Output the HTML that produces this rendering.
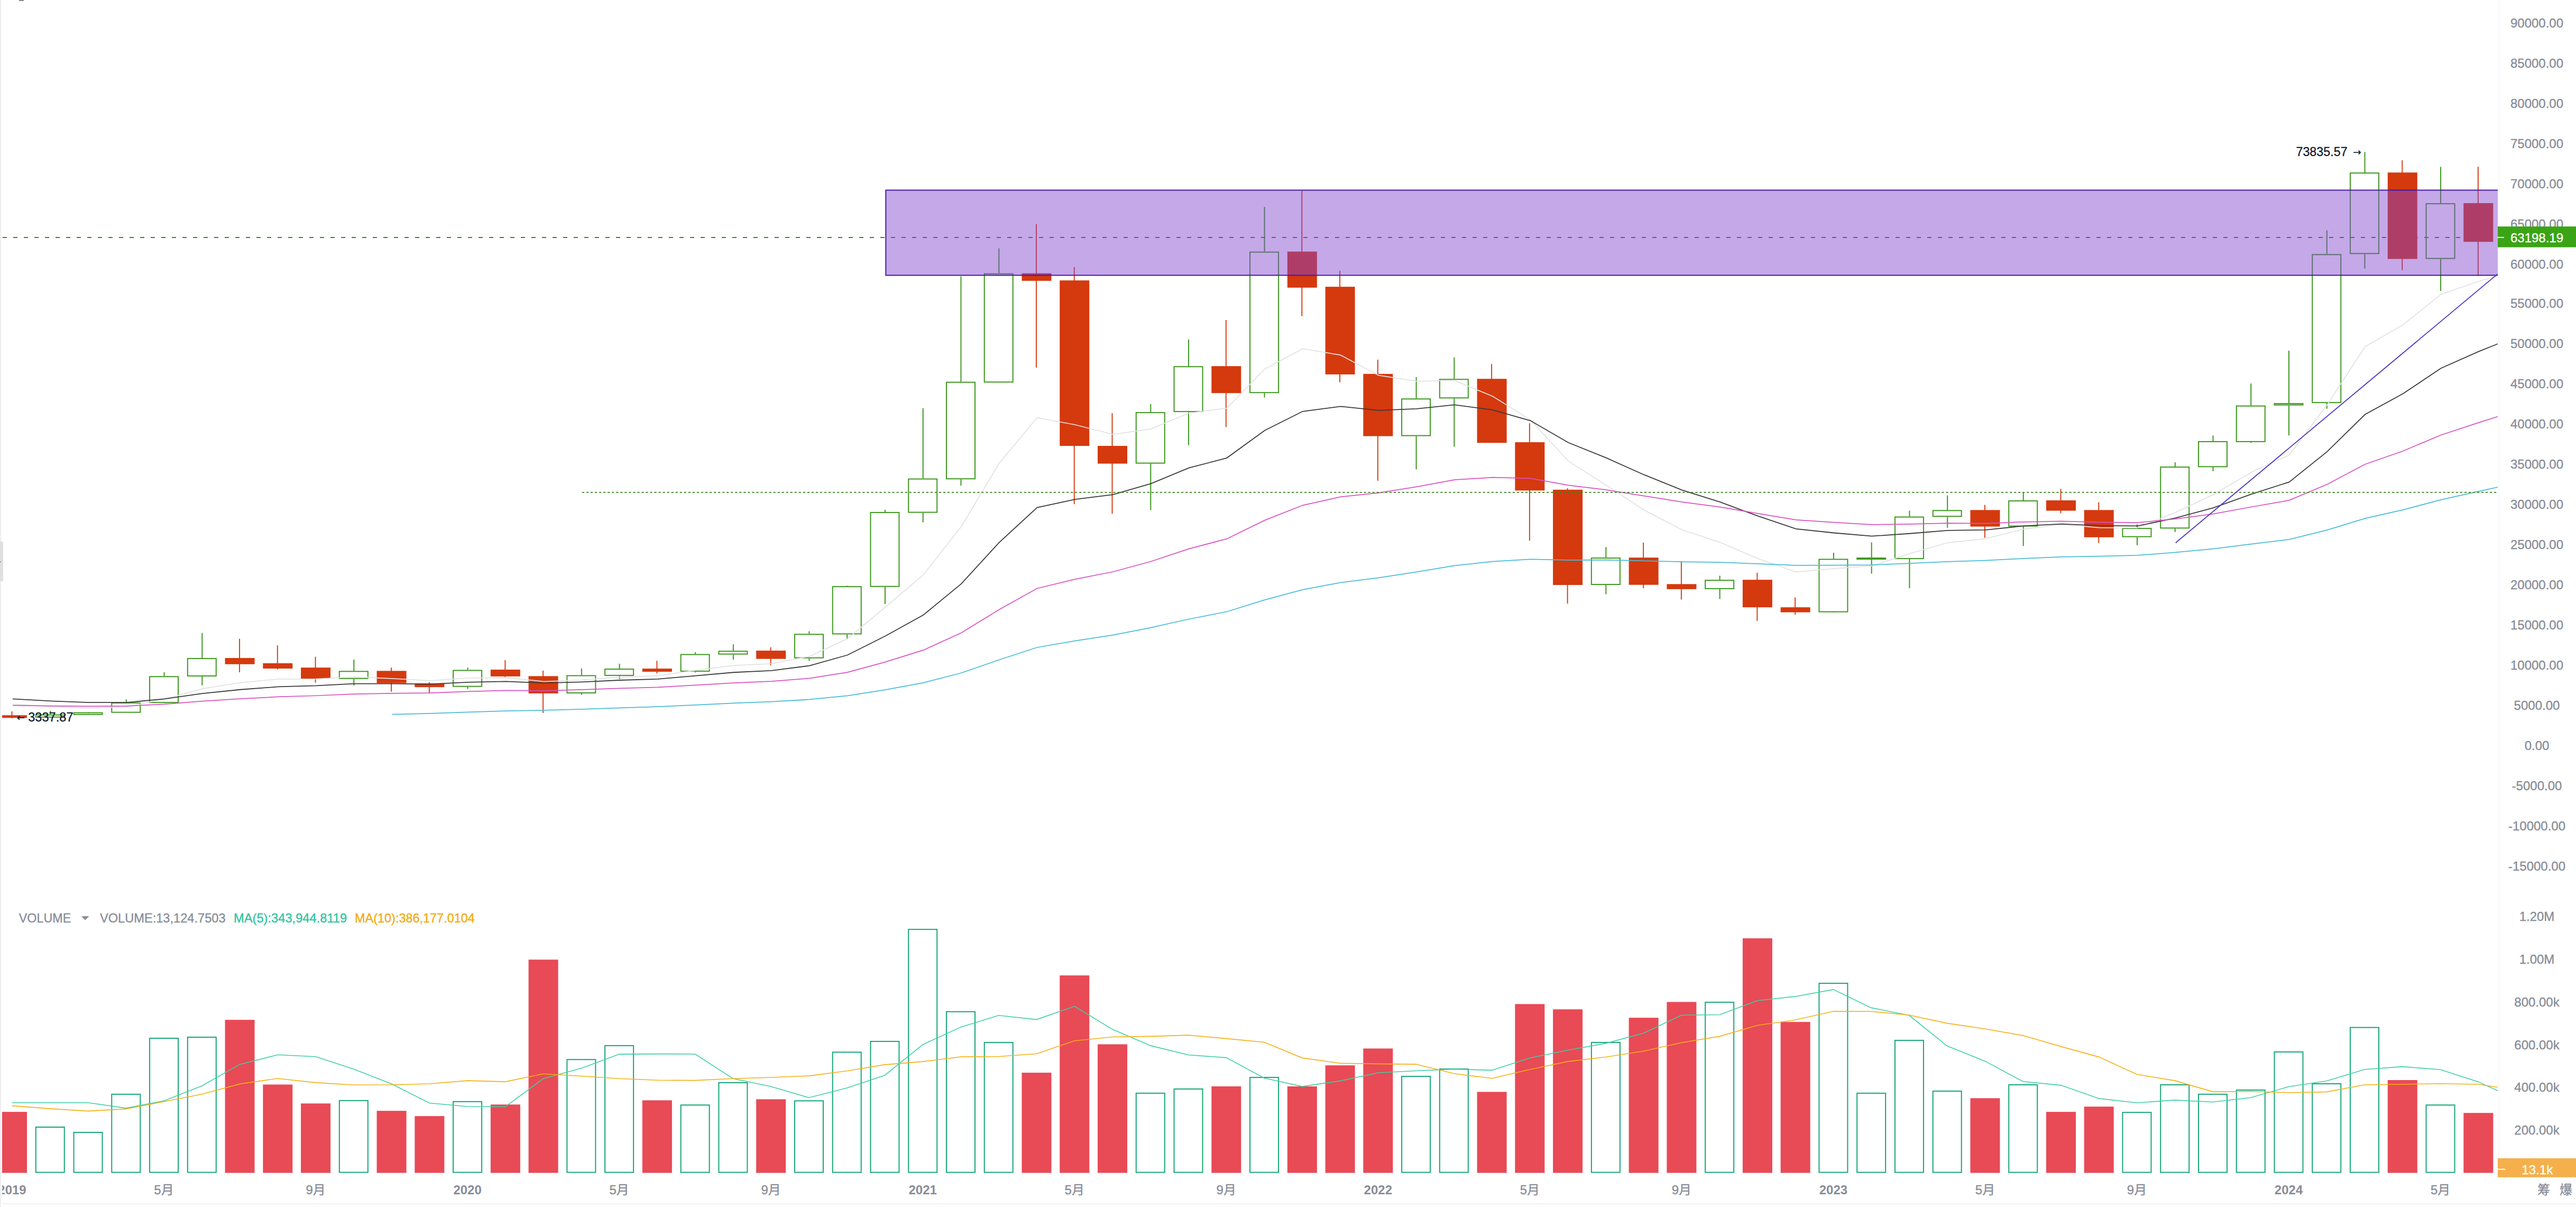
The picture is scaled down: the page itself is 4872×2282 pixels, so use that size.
<!DOCTYPE html>
<html lang="zh"><head><meta charset="utf-8"><title>BTC 月线</title>
<style>
html,body{margin:0;padding:0;background:#fff;}
body{width:4872px;height:2282px;overflow:hidden;}
svg{display:block;font-family:'Liberation Sans','Noto Sans CJK SC',sans-serif;font-size:24px;}
.ax{fill:#888c97;stroke:#888c97;stroke-width:.35px;text-anchor:middle;}
.lg{stroke-width:.35px;}
.yr{fill:#888c97;text-anchor:middle;font-weight:bold;}
.nv{fill:#0e1a2e;stroke:#0e1a2e;stroke-width:.3px;}
</style></head><body>
<svg width="4872" height="2282" viewBox="0 0 4872 2282">
<defs><clipPath id="cp"><rect x="4" y="0" width="4720" height="2282"/></clipPath></defs>
<rect width="4872" height="2282" fill="#fff"/>
<rect x="0" y="0" width="2.3" height="2282" fill="#efeff1"/>
<rect x="36" y="0" width="9" height="1.5" fill="#666"/>
<rect x="-6" y="1023.5" width="12" height="76" rx="4" fill="#dfe0e2"/><rect x="0" y="1061" width="1.2" height="2.5" fill="#777"/>
<rect x="4724.8" y="0" width="2.7" height="2226" fill="#f9f9fb"/>
<rect x="4" y="2275.2" width="4872" height="1.5" fill="#ededee"/>

<path d="M5 448.95H4724" stroke="#3b881d" stroke-width="2.1" stroke-dasharray="8 12" fill="none"/>
<g clip-path="url(#cp)">
<path d="M22.5 1344.87V1358.01" stroke="#d5390e" stroke-width="1.9" fill="none"/>
<rect x="-5" y="1352.24" width="56" height="5.01" fill="#d5390e"/>
<path d="M95.26 1344.04V1350.72M95.26 1356.74V1357.25" stroke="#3d981e" stroke-width="2" fill="none"/>
<rect x="67.76" y="1351.72" width="54" height="4.02" fill="none" stroke="#3d981e" stroke-width="2"/>
<path d="M167.02 1346.04V1346.58M167.02 1351.79V1352.09" stroke="#3d981e" stroke-width="2" fill="none"/>
<rect x="139.52" y="1347.58" width="54" height="3.21" fill="none" stroke="#3d981e" stroke-width="2"/>
<path d="M238.78 1322.32V1328.07M238.78 1347.68V1347.68" stroke="#3d981e" stroke-width="2" fill="none"/>
<rect x="211.28" y="1329.07" width="54" height="17.61" fill="none" stroke="#3d981e" stroke-width="2"/>
<path d="M310.54 1271.07V1278.27M310.54 1329.15V1328.15" stroke="#3d981e" stroke-width="2" fill="none"/>
<rect x="283.04" y="1279.27" width="54" height="48.89" fill="none" stroke="#3d981e" stroke-width="2"/>
<path d="M382.3 1196.7V1244.03M382.3 1278.95V1295.83" stroke="#3d981e" stroke-width="2" fill="none"/>
<rect x="354.8" y="1245.03" width="54" height="32.92" fill="none" stroke="#3d981e" stroke-width="2"/>
<path d="M453.05 1207.63V1271.11" stroke="#d5390e" stroke-width="1.9" fill="none"/>
<rect x="425.55" y="1244.03" width="56" height="11.76" fill="#d5390e"/>
<path d="M524.81 1220.24V1265.51" stroke="#d5390e" stroke-width="1.9" fill="none"/>
<rect x="497.31" y="1253.96" width="56" height="10.03" fill="#d5390e"/>
<path d="M596.57 1241.66V1290.57" stroke="#d5390e" stroke-width="1.9" fill="none"/>
<rect x="569.07" y="1262.16" width="56" height="20.83" fill="#d5390e"/>
<path d="M669.33 1247.1V1268.39M669.33 1283.81V1295.89" stroke="#3d981e" stroke-width="2" fill="none"/>
<rect x="641.83" y="1269.39" width="54" height="13.42" fill="none" stroke="#3d981e" stroke-width="2"/>
<path d="M740.09 1262.24V1307.7" stroke="#d5390e" stroke-width="1.9" fill="none"/>
<rect x="712.59" y="1268.39" width="56" height="23.21" fill="#d5390e"/>
<path d="M811.85 1289.7V1310.09" stroke="#d5390e" stroke-width="1.9" fill="none"/>
<rect x="784.35" y="1292.09" width="56" height="7.09" fill="#d5390e"/>
<path d="M884.61 1262.24V1266.49M884.61 1298.7V1302.49" stroke="#3d981e" stroke-width="2" fill="none"/>
<rect x="857.11" y="1267.49" width="54" height="30.2" fill="none" stroke="#3d981e" stroke-width="2"/>
<path d="M955.37 1248.04V1280.24" stroke="#d5390e" stroke-width="1.9" fill="none"/>
<rect x="927.87" y="1266.02" width="56" height="12.81" fill="#d5390e"/>
<path d="M1027.13 1267.94V1347.96" stroke="#d5390e" stroke-width="1.9" fill="none"/>
<rect x="999.63" y="1278.34" width="56" height="32.67" fill="#d5390e"/>
<path d="M1099.88 1263.68V1276.44M1099.88 1311.02V1313.4" stroke="#3d981e" stroke-width="2" fill="none"/>
<rect x="1072.38" y="1277.44" width="54" height="32.57" fill="none" stroke="#3d981e" stroke-width="2"/>
<path d="M1171.64 1254.8V1264.09M1171.64 1277.9V1283.99" stroke="#3d981e" stroke-width="2" fill="none"/>
<rect x="1144.14" y="1265.09" width="54" height="11.81" fill="none" stroke="#3d981e" stroke-width="2"/>
<path d="M1242.4 1249.21V1273.41" stroke="#d5390e" stroke-width="1.9" fill="none"/>
<rect x="1214.9" y="1264.09" width="56" height="5.91" fill="#d5390e"/>
<path d="M1315.16 1233V1236.49M1315.16 1269.91V1271.58" stroke="#3d981e" stroke-width="2" fill="none"/>
<rect x="1287.66" y="1237.49" width="54" height="31.42" fill="none" stroke="#3d981e" stroke-width="2"/>
<path d="M1386.92 1218.2V1230.31M1386.92 1237.56V1247.13" stroke="#3d981e" stroke-width="2" fill="none"/>
<rect x="1359.42" y="1231.31" width="54" height="5.25" fill="none" stroke="#3d981e" stroke-width="2"/>
<path d="M1457.68 1223.89V1257.99" stroke="#d5390e" stroke-width="1.9" fill="none"/>
<rect x="1430.18" y="1230.11" width="56" height="15.57" fill="#d5390e"/>
<path d="M1530.44 1193.58V1198.31M1530.44 1244.73V1249.47" stroke="#3d981e" stroke-width="2" fill="none"/>
<rect x="1502.94" y="1199.31" width="54" height="44.42" fill="none" stroke="#3d981e" stroke-width="2"/>
<path d="M1602.2 1107.18V1108.14M1602.2 1199.41V1208.47" stroke="#3d981e" stroke-width="2" fill="none"/>
<rect x="1574.7" y="1109.14" width="54" height="89.28" fill="none" stroke="#3d981e" stroke-width="2"/>
<path d="M1673.96 963.83V967.93M1673.96 1109.73V1141.98" stroke="#3d981e" stroke-width="2" fill="none"/>
<rect x="1646.46" y="968.93" width="54" height="139.8" fill="none" stroke="#3d981e" stroke-width="2"/>
<path d="M1745.72 771.68V904.59M1745.72 969.56V987.38" stroke="#3d981e" stroke-width="2" fill="none"/>
<rect x="1718.22" y="905.59" width="54" height="62.97" fill="none" stroke="#3d981e" stroke-width="2"/>
<path d="M1817.47 522.53V721.7M1817.47 906.23V918.32" stroke="#3d981e" stroke-width="2" fill="none"/>
<rect x="1789.97" y="722.7" width="54" height="182.53" fill="none" stroke="#3d981e" stroke-width="2"/>
<path d="M1889.23 469.49V516.64M1889.23 723.31V723.31" stroke="#3d981e" stroke-width="2" fill="none"/>
<rect x="1861.73" y="517.64" width="54" height="204.68" fill="none" stroke="#3d981e" stroke-width="2"/>
<path d="M1959.99 423.77V694.97" stroke="#d5390e" stroke-width="1.9" fill="none"/>
<rect x="1932.49" y="516.65" width="56" height="14.26" fill="#d5390e"/>
<path d="M2031.75 505.1V953.2" stroke="#d5390e" stroke-width="1.9" fill="none"/>
<rect x="2004.25" y="530.16" width="56" height="312.87" fill="#d5390e"/>
<path d="M2103.51 781.1V971.35" stroke="#d5390e" stroke-width="1.9" fill="none"/>
<rect x="2076.01" y="843.03" width="56" height="33.54" fill="#d5390e"/>
<path d="M2176.27 764.11V779.11M2176.27 876.57V964.17" stroke="#3d981e" stroke-width="2" fill="none"/>
<rect x="2148.77" y="780.11" width="54" height="95.46" fill="none" stroke="#3d981e" stroke-width="2"/>
<path d="M2248.03 641.81V692.24M2248.03 779.11V841.83" stroke="#3d981e" stroke-width="2" fill="none"/>
<rect x="2220.53" y="693.24" width="54" height="84.87" fill="none" stroke="#3d981e" stroke-width="2"/>
<path d="M2318.79 605.05V807.38" stroke="#d5390e" stroke-width="1.9" fill="none"/>
<rect x="2291.29" y="692.24" width="56" height="50.98" fill="#d5390e"/>
<path d="M2391.55 391.17V475.63M2391.55 743.27V751.43" stroke="#3d981e" stroke-width="2" fill="none"/>
<rect x="2364.05" y="476.63" width="54" height="265.65" fill="none" stroke="#3d981e" stroke-width="2"/>
<path d="M2462.31 360.79V597.75" stroke="#d5390e" stroke-width="1.9" fill="none"/>
<rect x="2434.81" y="475.63" width="56" height="68.2" fill="#d5390e"/>
<path d="M2534.07 511.88V722.62" stroke="#d5390e" stroke-width="1.9" fill="none"/>
<rect x="2506.57" y="542.16" width="56" height="165.72" fill="#d5390e"/>
<path d="M2605.82 679.93V908.89" stroke="#d5390e" stroke-width="1.9" fill="none"/>
<rect x="2578.32" y="706.88" width="56" height="117.72" fill="#d5390e"/>
<path d="M2678.58 712.88V753.3M2678.58 824.6V887.55" stroke="#3d981e" stroke-width="2" fill="none"/>
<rect x="2651.08" y="754.3" width="54" height="69.3" fill="none" stroke="#3d981e" stroke-width="2"/>
<path d="M2750.34 675.68V716.24M2750.34 753.3V844.52" stroke="#3d981e" stroke-width="2" fill="none"/>
<rect x="2722.84" y="717.24" width="54" height="35.06" fill="none" stroke="#3d981e" stroke-width="2"/>
<path d="M2821.1 688.23V836.21" stroke="#d5390e" stroke-width="1.9" fill="none"/>
<rect x="2793.6" y="716.24" width="56" height="121.06" fill="#d5390e"/>
<path d="M2892.86 800.22V1022.31" stroke="#d5390e" stroke-width="1.9" fill="none"/>
<rect x="2865.36" y="836.09" width="56" height="91.29" fill="#d5390e"/>
<path d="M2964.62 923.09V1141.22" stroke="#d5390e" stroke-width="1.9" fill="none"/>
<rect x="2937.12" y="925.84" width="56" height="180.14" fill="#d5390e"/>
<path d="M3037.38 1034.19V1054.11M3037.38 1105.98V1123.62" stroke="#3d981e" stroke-width="2" fill="none"/>
<rect x="3009.88" y="1055.11" width="54" height="49.87" fill="none" stroke="#3d981e" stroke-width="2"/>
<path d="M3108.14 1025.9V1112.09" stroke="#d5390e" stroke-width="1.9" fill="none"/>
<rect x="3080.64" y="1054.21" width="56" height="51.49" fill="#d5390e"/>
<path d="M3179.9 1062.58V1133.58" stroke="#d5390e" stroke-width="1.9" fill="none"/>
<rect x="3152.4" y="1104.34" width="56" height="9.54" fill="#d5390e"/>
<path d="M3252.66 1088.62V1096.14M3252.66 1113.88V1132.59" stroke="#3d981e" stroke-width="2" fill="none"/>
<rect x="3225.16" y="1097.14" width="54" height="15.74" fill="none" stroke="#3d981e" stroke-width="2"/>
<path d="M3323.41 1082.62V1173.82" stroke="#d5390e" stroke-width="1.9" fill="none"/>
<rect x="3295.91" y="1096.14" width="56" height="52.06" fill="#d5390e"/>
<path d="M3395.17 1129.6V1161.97" stroke="#d5390e" stroke-width="1.9" fill="none"/>
<rect x="3367.67" y="1148.16" width="56" height="9.46" fill="#d5390e"/>
<path d="M3467.93 1044.95V1056.49M3467.93 1157.64V1158.28" stroke="#3d981e" stroke-width="2" fill="none"/>
<rect x="3440.43" y="1057.49" width="54" height="99.15" fill="none" stroke="#3d981e" stroke-width="2"/>
<path d="M3539.69 1025.35V1054.11M3539.69 1058.11V1084.58" stroke="#3d981e" stroke-width="2" fill="none"/>
<rect x="3512.19" y="1055.11" width="54" height="2" fill="none" stroke="#3d981e" stroke-width="2"/>
<path d="M3611.45 965.6V976.52M3611.45 1057.1V1111.95" stroke="#3d981e" stroke-width="2" fill="none"/>
<rect x="3583.95" y="977.52" width="54" height="78.58" fill="none" stroke="#3d981e" stroke-width="2"/>
<path d="M3683.21 936.42V964.29M3683.21 977.2V997.71" stroke="#3d981e" stroke-width="2" fill="none"/>
<rect x="3655.71" y="965.29" width="54" height="10.91" fill="none" stroke="#3d981e" stroke-width="2"/>
<path d="M3753.97 954.57V1016.83" stroke="#d5390e" stroke-width="1.9" fill="none"/>
<rect x="3726.47" y="964.29" width="56" height="31.29" fill="#d5390e"/>
<path d="M3826.73 931.46V946.03M3826.73 995.58V1032.19" stroke="#3d981e" stroke-width="2" fill="none"/>
<rect x="3799.23" y="947.03" width="54" height="47.55" fill="none" stroke="#3d981e" stroke-width="2"/>
<path d="M3897.49 924.19V970.5" stroke="#d5390e" stroke-width="1.9" fill="none"/>
<rect x="3869.99" y="946.03" width="56" height="19.47" fill="#d5390e"/>
<path d="M3969.24 949.49V1026.63" stroke="#d5390e" stroke-width="1.9" fill="none"/>
<rect x="3941.74" y="964.29" width="56" height="51.49" fill="#d5390e"/>
<path d="M4042 991.36V998.09M4042 1015.63V1030.65" stroke="#3d981e" stroke-width="2" fill="none"/>
<rect x="4014.5" y="999.09" width="54" height="15.54" fill="none" stroke="#3d981e" stroke-width="2"/>
<path d="M4113.76 874.06V882.11M4113.76 999.35V1005.79" stroke="#3d981e" stroke-width="2" fill="none"/>
<rect x="4086.26" y="883.11" width="54" height="115.24" fill="none" stroke="#3d981e" stroke-width="2"/>
<path d="M4185.52 823.4V833.96M4185.52 883.33V890.97" stroke="#3d981e" stroke-width="2" fill="none"/>
<rect x="4158.02" y="834.96" width="54" height="47.37" fill="none" stroke="#3d981e" stroke-width="2"/>
<path d="M4257.28 724.89V766.62M4257.28 835.89V837.53" stroke="#3d981e" stroke-width="2" fill="none"/>
<rect x="4229.78" y="767.62" width="54" height="67.27" fill="none" stroke="#3d981e" stroke-width="2"/>
<path d="M4329.04 663.07V762.11M4329.04 766.62V823.25" stroke="#3d981e" stroke-width="2" fill="none"/>
<rect x="4301.54" y="763.11" width="54" height="2.51" fill="none" stroke="#3d981e" stroke-width="2"/>
<path d="M4400.8 435.22V480.34M4400.8 762.11V772.68" stroke="#3d981e" stroke-width="2" fill="none"/>
<rect x="4373.3" y="481.34" width="54" height="279.77" fill="none" stroke="#3d981e" stroke-width="2"/>
<path d="M4472.56 287.33V326.16M4472.56 480.34V507.83" stroke="#3d981e" stroke-width="2" fill="none"/>
<rect x="4445.06" y="327.16" width="54" height="152.18" fill="none" stroke="#3d981e" stroke-width="2"/>
<path d="M4543.32 303.11V510.87" stroke="#d5390e" stroke-width="1.9" fill="none"/>
<rect x="4515.82" y="326.16" width="56" height="163.44" fill="#d5390e"/>
<path d="M4616.08 315.54V384.18M4616.08 489.6V549.88" stroke="#3d981e" stroke-width="2" fill="none"/>
<rect x="4588.58" y="385.18" width="54" height="103.42" fill="none" stroke="#3d981e" stroke-width="2"/>
<path d="M4686.84 315.27V521.77" stroke="#d5390e" stroke-width="1.9" fill="none"/>
<rect x="4659.34" y="384.03" width="56" height="73.22" fill="#d5390e"/>
<path d="M24 1331.19L95.76 1336.07L167.52 1338.7L239.28 1336.04L311.04 1321.6L382.8 1302.21L454.55 1290.6L526.31 1283.95L598.07 1283.71L669.83 1279.88L741.59 1282.81L813.35 1286.9L885.11 1281.8L956.87 1281.06L1028.63 1288.55L1100.38 1285.52L1172.14 1280.16L1243.9 1277.62L1315.66 1267.34L1387.42 1258.08L1459.18 1254.98L1530.94 1240.81L1602.7 1207.65L1674.46 1147.72L1746.22 1086.94L1817.97 995.63L1889.73 875.88L1961.49 789.64L2033.25 802.99L2105.01 821.38L2176.77 810.81L2248.53 781.17L2320.29 771.68L2392.05 697.67L2463.81 659.21L2535.57 671.38L2607.32 709.68L2679.08 720.59L2750.84 719.5L2822.6 748.95L2894.36 793.56L2966.12 871.66L3037.88 917.27L3109.64 964.38L3181.4 1001.76L3253.16 1025.35L3324.91 1056.06L3396.67 1081.45L3468.43 1075.21L3540.19 1069.94L3611.95 1046.58L3683.71 1026.01L3755.47 1018.4L3827.23 1000.31L3898.99 991.61L3970.74 997.65L4042.5 997.76L4114.26 968.85L4186.02 935.13L4257.78 893L4329.54 860.28L4401.3 765.29L4473.06 655.51L4544.82 614.03L4616.58 556.57L4688.34 531.74L4760.09 511.03" stroke="#e2e2e2" stroke-width="1.75" fill="none"/>
<path d="M24 1321.39L95.76 1325.3L167.52 1328.14L239.28 1328.13L311.04 1321.48L382.8 1311.15L454.55 1303.77L526.31 1298.47L598.07 1296.4L669.83 1292.67L741.59 1292.53L813.35 1293.41L885.11 1289.82L956.87 1288.36L1028.63 1291.38L1100.38 1289.39L1172.14 1286.02L1243.9 1283.88L1315.66 1277.56L1387.42 1271.26L1459.18 1267.85L1530.94 1258.58L1602.7 1238.52L1674.46 1202.44L1746.22 1162.73L1817.97 1103.93L1889.73 1025.62L1961.49 959.66L2033.25 944.11L2105.01 935.1L2176.77 914.3L2248.53 884.69L2320.29 865.83L2392.05 813.8L2463.81 777.81L2535.57 768.48L2607.32 775.97L2679.08 772.94L2750.84 765.38L2822.6 774.97L2894.36 795.29L2966.12 836.72L3037.88 865.7L3109.64 897.7L3181.4 926.53L3253.16 949.14L3324.91 975.68L3396.67 999.94L3468.43 1007.48L3540.19 1013.7L3611.95 1008.74L3683.71 1002.81L3755.47 1001.85L3827.23 994.41L3898.99 990.55L3970.74 993.92L4042.5 994.47L4114.26 979.49L4186.02 960.09L4257.78 934.29L4329.54 911.33L4401.3 853.87L4473.06 783.51L4544.82 744.32L4616.58 696.3L4688.34 664.43L4760.09 635.69" stroke="#3a3a3a" stroke-width="1.8" fill="none"/>
<path d="M24 1333.56L95.76 1334.67L167.52 1335.44L239.28 1334.96L311.04 1331.31L382.8 1325.67L454.55 1321.17L526.31 1317.48L598.07 1315.25L669.83 1312.23L741.59 1310.9L813.35 1310.14L885.11 1307.33L956.87 1305.49L1028.63 1305.84L1100.38 1303.95L1172.14 1301.38L1243.9 1299.35L1315.66 1295.3L1387.42 1291.1L1459.18 1288.17L1530.94 1282.38L1602.7 1271.13L1674.46 1251.57L1746.22 1229.19L1817.97 1196.45L1889.73 1152.59L1961.49 1112.48L2033.25 1095.1L2105.01 1081L2176.77 1061.52L2248.53 1037.7L2320.29 1018.7L2392.05 983.66L2463.81 955.28L2535.57 939.32L2607.32 931.92L2679.08 920.4L2750.84 907.23L2822.6 902.71L2894.36 904.31L2966.12 917.32L3037.88 926.14L3109.64 937.73L3181.4 949.09L3253.16 958.58L3324.91 970.81L3396.67 982.86L3468.43 987.61L3540.19 991.9L3611.95 990.91L3683.71 989.19L3755.47 989.61L3827.23 986.79L3898.99 985.42L3970.74 987.38L4042.5 988.07L4114.26 981.23L4186.02 971.73L4257.78 958.5L4329.54 945.83L4401.3 915.8L4473.06 877.76L4544.82 852.71L4616.58 822.49L4688.34 798.92L4760.09 776.34" stroke="#d853c2" stroke-width="1.75" fill="none"/>
<path d="M741.59 1350.65L813.35 1348.96L885.11 1346.26L956.87 1344.05L1028.63 1342.97L1100.38 1340.79L1172.14 1338.27L1243.9 1336.03L1315.66 1332.77L1387.42 1329.41L1459.18 1326.66L1530.94 1322.46L1602.7 1315.43L1674.46 1304.04L1746.22 1290.94L1817.97 1272.28L1889.73 1247.5L1961.49 1224.01L2033.25 1211.52L2105.01 1200.53L2176.77 1186.72L2248.53 1170.5L2320.29 1156.49L2392.05 1134.17L2463.81 1114.82L2535.57 1101.47L2607.32 1092.4L2679.08 1081.28L2750.84 1069.31L2822.6 1061.7L2894.36 1057.3L2966.12 1058.89L3037.88 1058.74L3109.64 1060.28L3181.4 1062.03L3253.16 1063.15L3324.91 1065.94L3396.67 1068.95L3468.43 1068.54L3540.19 1068.07L3611.95 1065.06L3683.71 1061.76L3755.47 1059.59L3827.23 1055.87L3898.99 1052.9L3970.74 1051.69L4042.5 1049.93L4114.26 1044.43L4186.02 1037.53L4257.78 1028.64L4329.54 1019.91L4401.3 1002.21L4473.06 980.05L4544.82 963.97L4616.58 944.96L4688.34 928.97L4760.09 913.23" stroke="#48bcd8" stroke-width="1.75" fill="none"/>
</g>
<text class="nv" x="4342.4" y="295" textLength="97.4" lengthAdjust="spacingAndGlyphs">73835.57</text>
<text class="nv" x="4450.2" y="293.6" font-family="DejaVu Sans,sans-serif" font-size="18.5" stroke="#0e1a2e" stroke-width="0.5">→</text>
<text class="nv" x="31.8" y="1362.8" font-family="DejaVu Sans,sans-serif" font-size="18.5" stroke="#0e1a2e" stroke-width="0.5">←</text>
<text class="nv" x="53.2" y="1364.2" textLength="85.4" lengthAdjust="spacingAndGlyphs">3337.87</text>
<path d="M1100.9 930.9H4724" stroke="#36821b" stroke-width="1.9" stroke-dasharray="4.2 3.836" fill="none"/>
<g clip-path="url(#cp)"><rect x="1675.3" y="359.5" width="3090" height="161" fill="rgba(130,68,206,0.465)" stroke="#4519a6" stroke-width="2"/></g>
<path d="M4114.8 1026.2L4723.6 518.1" stroke="#4f36c4" stroke-width="1.85" fill="none"/>
<g clip-path="url(#cp)">
<rect x="-5" y="2102.16" width="56" height="115.34" fill="#e84a56"/>
<rect x="67.76" y="2131" width="54" height="85.5" fill="none" stroke="#16a678" stroke-width="2"/>
<rect x="139.52" y="2140.94" width="54" height="75.56" fill="none" stroke="#16a678" stroke-width="2"/>
<rect x="211.28" y="2068.85" width="54" height="147.65" fill="none" stroke="#16a678" stroke-width="2"/>
<rect x="283.04" y="1962.96" width="54" height="253.54" fill="none" stroke="#16a678" stroke-width="2"/>
<rect x="354.8" y="1960.98" width="54" height="255.52" fill="none" stroke="#16a678" stroke-width="2"/>
<rect x="425.55" y="1928.16" width="56" height="289.34" fill="#e84a56"/>
<rect x="497.31" y="2050.46" width="56" height="167.04" fill="#e84a56"/>
<rect x="569.07" y="2086.25" width="56" height="131.25" fill="#e84a56"/>
<rect x="641.83" y="2080.79" width="54" height="135.71" fill="none" stroke="#16a678" stroke-width="2"/>
<rect x="712.59" y="2100.17" width="56" height="117.33" fill="#e84a56"/>
<rect x="784.35" y="2110.12" width="56" height="107.38" fill="#e84a56"/>
<rect x="857.11" y="2082.77" width="54" height="133.73" fill="none" stroke="#16a678" stroke-width="2"/>
<rect x="927.87" y="2088.24" width="56" height="129.26" fill="#e84a56"/>
<rect x="999.63" y="1814.32" width="56" height="403.18" fill="#e84a56"/>
<rect x="1072.38" y="2003.23" width="54" height="213.27" fill="none" stroke="#16a678" stroke-width="2"/>
<rect x="1144.14" y="1976.88" width="54" height="239.62" fill="none" stroke="#16a678" stroke-width="2"/>
<rect x="1214.9" y="2080.29" width="56" height="137.21" fill="#e84a56"/>
<rect x="1287.66" y="2089.24" width="54" height="127.26" fill="none" stroke="#16a678" stroke-width="2"/>
<rect x="1359.42" y="2046.98" width="54" height="169.52" fill="none" stroke="#16a678" stroke-width="2"/>
<rect x="1430.18" y="2078.3" width="56" height="139.2" fill="#e84a56"/>
<rect x="1502.94" y="2081.28" width="54" height="135.22" fill="none" stroke="#16a678" stroke-width="2"/>
<rect x="1574.7" y="1989.31" width="54" height="227.19" fill="none" stroke="#16a678" stroke-width="2"/>
<rect x="1646.46" y="1968.93" width="54" height="247.57" fill="none" stroke="#16a678" stroke-width="2"/>
<rect x="1718.22" y="1757.15" width="54" height="459.35" fill="none" stroke="#16a678" stroke-width="2"/>
<rect x="1789.97" y="1912.75" width="54" height="303.75" fill="none" stroke="#16a678" stroke-width="2"/>
<rect x="1861.73" y="1970.92" width="54" height="245.58" fill="none" stroke="#16a678" stroke-width="2"/>
<rect x="1932.49" y="2028.09" width="56" height="189.41" fill="#e84a56"/>
<rect x="2004.25" y="1844.15" width="56" height="373.35" fill="#e84a56"/>
<rect x="2076.01" y="1974.4" width="56" height="243.1" fill="#e84a56"/>
<rect x="2148.77" y="2066.87" width="54" height="149.63" fill="none" stroke="#16a678" stroke-width="2"/>
<rect x="2220.53" y="2058.91" width="54" height="157.59" fill="none" stroke="#16a678" stroke-width="2"/>
<rect x="2291.29" y="2053.94" width="56" height="163.56" fill="#e84a56"/>
<rect x="2364.05" y="2037.04" width="54" height="179.46" fill="none" stroke="#16a678" stroke-width="2"/>
<rect x="2434.81" y="2053.94" width="56" height="163.56" fill="#e84a56"/>
<rect x="2506.57" y="2014.17" width="56" height="203.33" fill="#e84a56"/>
<rect x="2578.32" y="1982.35" width="56" height="235.15" fill="#e84a56"/>
<rect x="2651.08" y="2035.05" width="54" height="181.45" fill="none" stroke="#16a678" stroke-width="2"/>
<rect x="2722.84" y="2021.13" width="54" height="195.37" fill="none" stroke="#16a678" stroke-width="2"/>
<rect x="2793.6" y="2064.38" width="56" height="153.12" fill="#e84a56"/>
<rect x="2865.36" y="1898.34" width="56" height="319.16" fill="#e84a56"/>
<rect x="2937.12" y="1908.28" width="56" height="309.22" fill="#e84a56"/>
<rect x="3009.88" y="1970.92" width="54" height="245.58" fill="none" stroke="#16a678" stroke-width="2"/>
<rect x="3080.64" y="1924.19" width="56" height="293.31" fill="#e84a56"/>
<rect x="3152.4" y="1894.36" width="56" height="323.14" fill="#e84a56"/>
<rect x="3225.16" y="1894.86" width="54" height="321.64" fill="none" stroke="#16a678" stroke-width="2"/>
<rect x="3295.91" y="1774.05" width="56" height="443.45" fill="#e84a56"/>
<rect x="3367.67" y="1932.14" width="56" height="285.36" fill="#e84a56"/>
<rect x="3440.43" y="1859.06" width="54" height="357.44" fill="none" stroke="#16a678" stroke-width="2"/>
<rect x="3512.19" y="2066.87" width="54" height="149.63" fill="none" stroke="#16a678" stroke-width="2"/>
<rect x="3583.95" y="1966.94" width="54" height="249.56" fill="none" stroke="#16a678" stroke-width="2"/>
<rect x="3655.71" y="2062.89" width="54" height="153.61" fill="none" stroke="#16a678" stroke-width="2"/>
<rect x="3726.47" y="2076.31" width="56" height="141.19" fill="#e84a56"/>
<rect x="3799.23" y="2050.96" width="54" height="165.54" fill="none" stroke="#16a678" stroke-width="2"/>
<rect x="3869.99" y="2102.16" width="56" height="115.34" fill="#e84a56"/>
<rect x="3941.74" y="2092.22" width="56" height="125.28" fill="#e84a56"/>
<rect x="4014.5" y="2103.16" width="54" height="113.34" fill="none" stroke="#16a678" stroke-width="2"/>
<rect x="4086.26" y="2050.96" width="54" height="165.54" fill="none" stroke="#16a678" stroke-width="2"/>
<rect x="4158.02" y="2068.85" width="54" height="147.65" fill="none" stroke="#16a678" stroke-width="2"/>
<rect x="4229.78" y="2060.9" width="54" height="155.6" fill="none" stroke="#16a678" stroke-width="2"/>
<rect x="4301.54" y="1988.81" width="54" height="227.69" fill="none" stroke="#16a678" stroke-width="2"/>
<rect x="4373.3" y="2048.97" width="54" height="167.53" fill="none" stroke="#16a678" stroke-width="2"/>
<rect x="4445.06" y="1942.58" width="54" height="273.92" fill="none" stroke="#16a678" stroke-width="2"/>
<rect x="4515.82" y="2042.01" width="56" height="175.49" fill="#e84a56"/>
<rect x="4588.58" y="2089.24" width="54" height="127.26" fill="none" stroke="#16a678" stroke-width="2"/>
<rect x="4659.34" y="2104.15" width="56" height="113.35" fill="#e84a56"/>
<path d="M23 2084.68L94.76 2084.68L166.52 2084.68L238.28 2095.12L310.04 2081.18L381.8 2052.95L453.55 2012.38L525.31 1994.28L597.07 1997.76L668.83 2021.33L740.59 2049.17L812.35 2085.56L884.11 2092.02L955.87 2092.42L1027.63 2039.13L1099.38 2019.74L1171.14 1993.09L1242.9 1992.59L1314.66 1992.79L1386.42 2039.32L1458.18 2054.34L1529.94 2075.22L1601.7 2057.02L1673.46 2032.96L1745.22 1974.99L1816.97 1941.88L1888.73 1919.81L1960.49 1927.57L2032.25 1902.61L2104.01 1946.06L2175.77 1976.88L2247.53 1994.48L2319.29 1999.65L2391.05 2038.23L2462.81 2054.14L2534.57 2043.6L2606.32 2028.29L2678.08 2024.51L2749.84 2021.33L2821.6 2023.42L2893.36 2000.25L2965.12 1985.43L3036.88 1972.61L3108.64 1953.22L3180.4 1919.22L3252.16 1918.52L3323.91 1891.67L3395.67 1883.92L3467.43 1870.89L3539.19 1905.39L3610.95 1919.81L3682.71 1977.58L3754.47 2006.41L3826.23 2044.79L3897.99 2051.85L3969.74 2076.91L4041.5 2084.96L4113.26 2079.89L4185.02 2083.47L4256.78 2075.22L4328.54 2054.54L4400.3 2043.7L4472.06 2022.02L4543.82 2016.65L4615.58 2022.32L4687.34 2045.39L4759.09 2078.04" stroke="#3ecfa6" stroke-width="1.6" fill="none"/>
<path d="M23 2090.65L94.76 2096.12L166.52 2100.59L238.28 2096.62L310.04 2082.7L381.8 2068.78L453.55 2049.39L525.31 2038.95L597.07 2046.9L668.83 2051.26L740.59 2051.06L812.35 2048.97L884.11 2043.15L955.87 2045.09L1027.63 2030.23L1099.38 2034.45L1171.14 2039.32L1242.9 2042.31L1314.66 2042.61L1386.42 2039.23L1458.18 2037.04L1529.94 2034.15L1601.7 2024.81L1673.46 2012.88L1745.22 2007.16L1816.97 1998.11L1888.73 1997.51L1960.49 1992.29L2032.25 1967.79L2104.01 1960.53L2175.77 1959.38L2247.53 1957.15L2319.29 1963.61L2391.05 1970.42L2462.81 2000.1L2534.57 2010.24L2606.32 2011.39L2678.08 2012.08L2749.84 2029.78L2821.6 2038.78L2893.36 2021.92L2965.12 2006.86L3036.88 1998.56L3108.64 1987.27L3180.4 1971.32L3252.16 1959.38L3323.91 1938.55L3395.67 1928.26L3467.43 1912.06L3539.19 1912.3L3610.95 1919.17L3682.71 1934.63L3754.47 1945.17L3826.23 1957.84L3897.99 1978.62L3969.74 1998.36L4041.5 2031.27L4113.26 2043.15L4185.02 2064.13L4256.78 2063.54L4328.54 2065.72L4400.3 2064.33L4472.06 2050.96L4543.82 2050.06L4615.58 2048.77L4687.34 2049.96L4759.09 2060.87" stroke="#f5b014" stroke-width="1.6" fill="none"/>
</g>
<text class="lg" x="35.8" y="1744.3" fill="#888c97" stroke="#888c97" textLength="98.4" lengthAdjust="spacingAndGlyphs">VOLUME</text>
<path d="M153.9 1732.2h14.6l-7.3 7.6z" fill="#888c97"/>
<text class="lg" x="188.9" y="1744.3" fill="#888c97" stroke="#888c97" textLength="237.7" lengthAdjust="spacingAndGlyphs">VOLUME:13,124.7503</text>
<text class="lg" x="442" y="1744.3" fill="#2fc39f" stroke="#2fc39f" textLength="214.2" lengthAdjust="spacingAndGlyphs">MA(5):343,944.8119</text>
<text class="lg" x="671.1" y="1744.3" fill="#f5a90a" stroke="#f5a90a" textLength="226.7" lengthAdjust="spacingAndGlyphs">MA(10):386,177.0104</text>
<text class="ax" x="4798" y="51.9">90000.00</text>
<text class="ax" x="4798" y="127.9">85000.00</text>
<text class="ax" x="4798" y="203.9">80000.00</text>
<text class="ax" x="4798" y="279.9">75000.00</text>
<text class="ax" x="4798" y="355.9">70000.00</text>
<text class="ax" x="4798" y="431.9">65000.00</text>
<text class="ax" x="4798" y="507.9">60000.00</text>
<text class="ax" x="4798" y="581.9">55000.00</text>
<text class="ax" x="4798" y="657.9">50000.00</text>
<text class="ax" x="4798" y="733.9">45000.00</text>
<text class="ax" x="4798" y="809.9">40000.00</text>
<text class="ax" x="4798" y="885.9">35000.00</text>
<text class="ax" x="4798" y="961.9">30000.00</text>
<text class="ax" x="4798" y="1037.9">25000.00</text>
<text class="ax" x="4798" y="1113.9">20000.00</text>
<text class="ax" x="4798" y="1189.9">15000.00</text>
<text class="ax" x="4798" y="1265.9">10000.00</text>
<text class="ax" x="4798" y="1341.9">5000.00</text>
<text class="ax" x="4798" y="1417.9">0.00</text>
<text class="ax" x="4798" y="1493.9">-5000.00</text>
<text class="ax" x="4798" y="1569.9">-10000.00</text>
<text class="ax" x="4798" y="1645.9">-15000.00</text>
<text class="ax" x="4798" y="1741.1">1.20M</text>
<text class="ax" x="4798" y="1821.92">1.00M</text>
<text class="ax" x="4798" y="1902.74">800.00k</text>
<text class="ax" x="4798" y="1983.56">600.00k</text>
<text class="ax" x="4798" y="2064.38">400.00k</text>
<text class="ax" x="4798" y="2145.2">200.00k</text>
<rect x="4724" y="428.2" width="148" height="39.3" fill="#3ba415"/>
<rect x="4724" y="447.9" width="12" height="2" fill="#fff"/>
<text class="lg" x="4798" y="458.1" fill="#fff" stroke="#fff" text-anchor="middle">63198.19</text>
<rect x="4724" y="2189.9" width="148" height="35.9" fill="#f5b04b"/>
<rect x="4724" y="2209.7" width="14" height="2" fill="#fff"/>
<text class="lg" x="4798.8" y="2220.1" fill="#fff" stroke="#fff" text-anchor="middle">13.1k</text>
<text class="yr" x="23" y="2258.3" clip-path="url(#cp)">2019</text>
<text class="ax" x="310.04" y="2258.3" clip-path="url(#cp)">5月</text>
<text class="ax" x="597.07" y="2258.3" clip-path="url(#cp)">9月</text>
<text class="yr" x="884.11" y="2258.3" clip-path="url(#cp)">2020</text>
<text class="ax" x="1171.14" y="2258.3" clip-path="url(#cp)">5月</text>
<text class="ax" x="1458.18" y="2258.3" clip-path="url(#cp)">9月</text>
<text class="yr" x="1745.22" y="2258.3" clip-path="url(#cp)">2021</text>
<text class="ax" x="2032.25" y="2258.3" clip-path="url(#cp)">5月</text>
<text class="ax" x="2319.29" y="2258.3" clip-path="url(#cp)">9月</text>
<text class="yr" x="2606.32" y="2258.3" clip-path="url(#cp)">2022</text>
<text class="ax" x="2893.36" y="2258.3" clip-path="url(#cp)">5月</text>
<text class="ax" x="3180.4" y="2258.3" clip-path="url(#cp)">9月</text>
<text class="yr" x="3467.43" y="2258.3" clip-path="url(#cp)">2023</text>
<text class="ax" x="3754.47" y="2258.3" clip-path="url(#cp)">5月</text>
<text class="ax" x="4041.5" y="2258.3" clip-path="url(#cp)">9月</text>
<text class="yr" x="4328.54" y="2258.3" clip-path="url(#cp)">2024</text>
<text class="ax" x="4615.58" y="2258.3" clip-path="url(#cp)">5月</text>
<text class="lg" x="4799" y="2258" fill="#888c97" stroke="#888c97">筹</text>
<text class="lg" x="4841" y="2258" fill="#888c97" stroke="#888c97">爆</text>
</svg></body></html>
